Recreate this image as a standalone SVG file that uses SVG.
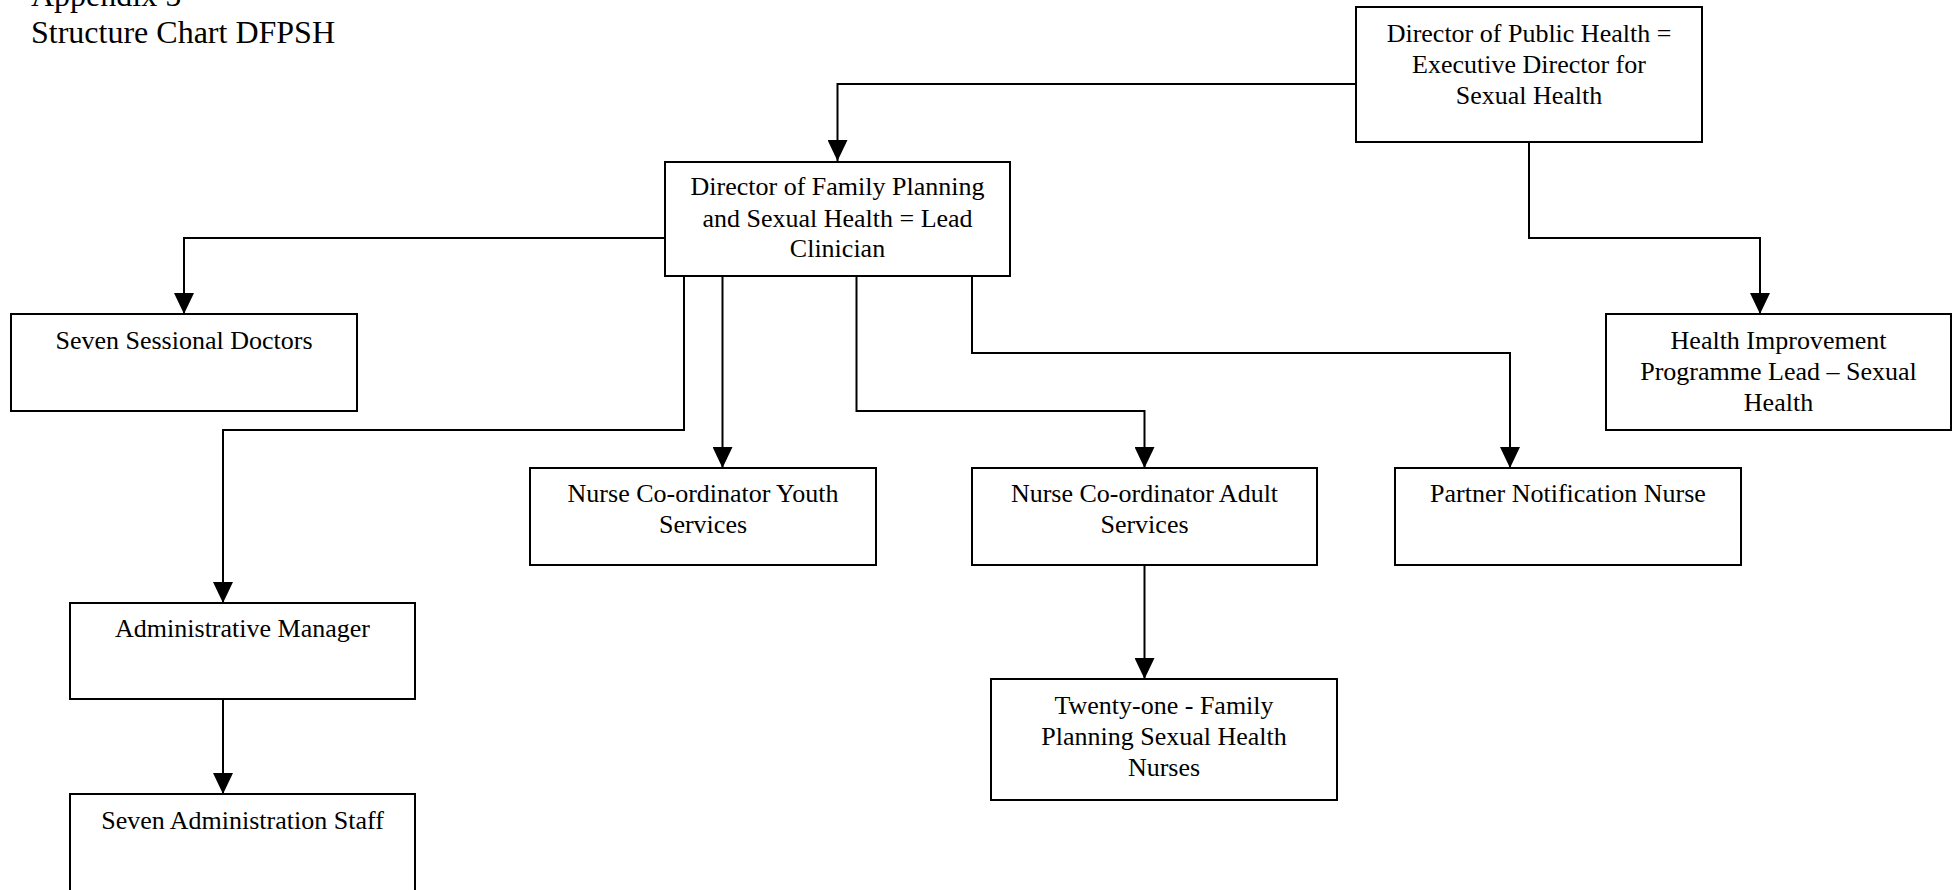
<svg xmlns="http://www.w3.org/2000/svg" width="1957" height="890" viewBox="0 0 1957 890">
<style>
  .box { fill: #ffffff; stroke: #000000; stroke-width: 2; }
  .lbl { font-family: "Liberation Serif", "Times New Roman", serif; font-size: 26px; fill: #000000; text-anchor: middle; }
  .title { font-family: "Liberation Serif", "Times New Roman", serif; font-size: 32px; fill: #000000; }
  .conn { fill: none; stroke: #000000; stroke-width: 2; marker-end: url(#arrow); }
</style>
<defs>
  <marker id="arrow" markerUnits="userSpaceOnUse" markerWidth="21" markerHeight="20" refX="21" refY="10" orient="auto">
    <path d="M0,0 L21,10 L0,20 z" fill="#000000"/>
  </marker>
</defs>
<rect x="0" y="0" width="1957" height="890" fill="#ffffff"/>
<g id="title">
  <text class="title" x="31" y="6">Appendix 5</text>
  <text class="title" x="31" y="43">Structure Chart DFPSH</text>
</g>
<g id="connectors">
  <path class="conn" d="M1356,84 H837.5 V161"/>
  <path class="conn" d="M1529,142 V238 H1760 V314"/>
  <path class="conn" d="M665,238 H184 V314"/>
  <path class="conn" d="M684,276 V430 H223 V603"/>
  <path class="conn" d="M722.5,276 V468"/>
  <path class="conn" d="M856.5,276 V411 H1144.5 V468"/>
  <path class="conn" d="M972,276 V353 H1510 V468"/>
  <path class="conn" d="M1144.5,565 V679"/>
  <path class="conn" d="M223,699 V794"/>
</g>
<g id="dph">
  <rect class="box" x="1356" y="7" width="346" height="135"/>
  <text class="lbl" x="1529" y="42">Director of Public Health =</text>
  <text class="lbl" x="1529" y="73">Executive Director for</text>
  <text class="lbl" x="1529" y="104">Sexual Health</text>
</g>
<g id="dfp">
  <rect class="box" x="665" y="162" width="345" height="114"/>
  <text class="lbl" x="837.5" y="195">Director of Family Planning</text>
  <text class="lbl" x="837.5" y="227">and Sexual Health = Lead</text>
  <text class="lbl" x="837.5" y="257">Clinician</text>
</g>
<g id="sessional">
  <rect class="box" x="11" y="314" width="346" height="97"/>
  <text class="lbl" x="184" y="349">Seven Sessional Doctors</text>
</g>
<g id="hip">
  <rect class="box" x="1606" y="314" width="345" height="116"/>
  <text class="lbl" x="1778.5" y="349">Health Improvement</text>
  <text class="lbl" x="1778.5" y="380">Programme Lead – Sexual</text>
  <text class="lbl" x="1778.5" y="411">Health</text>
</g>
<g id="youth">
  <rect class="box" x="530" y="468" width="346" height="97"/>
  <text class="lbl" x="703" y="502">Nurse Co-ordinator Youth</text>
  <text class="lbl" x="703" y="533">Services</text>
</g>
<g id="adult">
  <rect class="box" x="972" y="468" width="345" height="97"/>
  <text class="lbl" x="1144.5" y="502">Nurse Co-ordinator Adult</text>
  <text class="lbl" x="1144.5" y="533">Services</text>
</g>
<g id="partner">
  <rect class="box" x="1395" y="468" width="346" height="97"/>
  <text class="lbl" x="1568" y="502">Partner Notification Nurse</text>
</g>
<g id="admin">
  <rect class="box" x="70" y="603" width="345" height="96"/>
  <text class="lbl" x="242.5" y="637">Administrative Manager</text>
</g>
<g id="staff">
  <rect class="box" x="70" y="794" width="345" height="110"/>
  <text class="lbl" x="242.5" y="829">Seven Administration Staff</text>
</g>
<g id="twentyone">
  <rect class="box" x="991" y="679" width="346" height="121"/>
  <text class="lbl" x="1164" y="714">Twenty-one - Family</text>
  <text class="lbl" x="1164" y="745">Planning Sexual Health</text>
  <text class="lbl" x="1164" y="776">Nurses</text>
</g>
</svg>
